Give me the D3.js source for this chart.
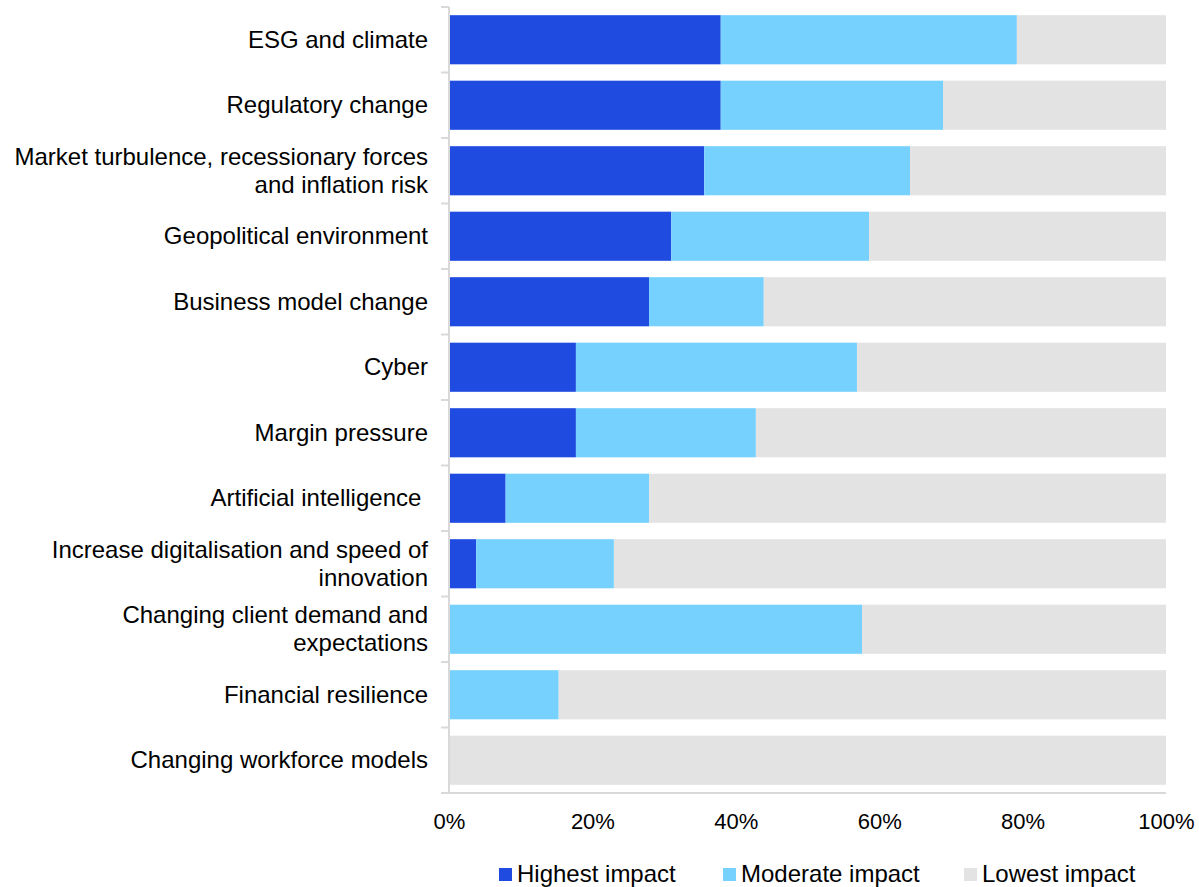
<!DOCTYPE html>
<html>
<head>
<meta charset="utf-8">
<script src="https://cdn.jsdelivr.net/npm/d3@7"></script>
<style>
  html, body { margin: 0; padding: 0; background: #fff; }
  svg { display: block; font-family: "Liberation Sans", Arial, sans-serif; }
</style>
</head>
<body>
<svg id="chart"></svg>
<script>
'use strict';

// --- data (percent of respondents) ---
var categories = [
    'ESG and climate',
    'Regulatory change',
    'Market turbulence, recessionary forces\nand inflation risk',
    'Geopolitical environment',
    'Business model change',
    'Cyber',
    'Margin pressure',
    'Artificial intelligence ',
    'Increase digitalisation and speed of\ninnovation',
    'Changing client demand and\nexpectations',
    'Financial resilience',
    'Changing workforce models'
];
var highestImpact  = [37.9, 37.9, 35.6, 31.0, 27.9, 17.7, 17.7, 7.9, 3.8, 0, 0, 0];
var moderateImpact = [41.3, 31.0, 28.7, 27.6, 16.0, 39.2, 25.1, 20.0, 19.2, 57.6, 15.3, 0];
var lowestImpact   = [20.8, 31.1, 35.7, 41.4, 56.1, 43.1, 57.2, 72.1, 77.0, 42.4, 84.7, 100];
var seriesNames = ['Highest impact', 'Moderate impact', 'Lowest impact'];
var tickValues = [0, 20, 40, 60, 80, 100];

var config = {
    width: 1199,
    height: 887,
    left: 449,
    right: 1166,
    top: 7,
    bottom: 793,
    colors: ['#1f4be0', '#76d1fe', '#e3e3e3'],
    axisColor: '#d9d9d9',
    labelSize: 24,
    tickSize: 22,
    legendSize: 24
};

var svg = d3.select('#chart')
    .attr('width', config.width)
    .attr('height', config.height);

var rows = categories.map(function(c, i) {
    return { cat: c, h: highestImpact[i], m: moderateImpact[i], l: lowestImpact[i] };
});

var x = d3.scaleLinear().domain([0, 100]).range([config.left, config.right]);
var y = d3.scaleBand()
    .domain(categories)
    .range([config.top, config.bottom])
    .paddingInner(0.25)
    .paddingOuter(0.125);

var stack = d3.stack().keys(['h', 'm', 'l']);
var layers = stack(rows);

svg.append('g')
    .selectAll('g')
    .data(layers)
    .enter()
    .append('g')
    .attr('fill', function(d, i) { return config.colors[i]; })
    .selectAll('rect')
    .data(function(d) { return d; })
    .enter()
    .append('rect')
    .attr('x', function(d) { return x(d[0]); })
    .attr('width', function(d) { return Math.max(0, x(d[1]) - x(d[0])); })
    .attr('y', function(d) { return y(d.data.cat); })
    .attr('height', y.bandwidth());

// left axis: line + ticks on category boundaries
var boundaries = d3.range(categories.length + 1).map(function(i) {
    return config.top + i * y.step();
});
var axisG = svg.append('g')
    .attr('stroke', config.axisColor)
    .attr('stroke-width', 2);
axisG.append('line')
    .attr('x1', config.left).attr('x2', config.left)
    .attr('y1', config.top).attr('y2', config.bottom);
axisG.selectAll('line.tick')
    .data(boundaries)
    .enter()
    .append('line')
    .attr('class', 'tick')
    .attr('x1', config.left - 8).attr('x2', config.left)
    .attr('y1', function(d) { return d; })
    .attr('y2', function(d) { return d; });
// bottom axis line
axisG.append('line')
    .attr('x1', config.left).attr('x2', config.right)
    .attr('y1', config.bottom).attr('y2', config.bottom);

// category labels
var labels = svg.append('g')
    .attr('font-size', config.labelSize)
    .attr('fill', '#000')
    .attr('text-anchor', 'end');
labels.selectAll('text')
    .data(categories)
    .enter()
    .append('text')
    .attr('x', config.left - 21)
    .attr('y', function(d) { return y(d) + y.bandwidth() / 2; })
    .style('white-space', 'pre')
    .each(function(d) {
        var lines = d.split('\n');
        var t = d3.select(this);
        var lineH = 28;
        var y0 = -(lines.length - 1) * lineH / 2;
        lines.forEach(function(line, k) {
            t.append('tspan')
                .attr('x', config.left - 21)
                .attr('dy', k === 0 ? (y0 + 8) : lineH)
                .text(line);
        });
    });

// x tick labels
var xAxis = d3.axisBottom(x)
    .tickValues(tickValues)
    .tickSize(0)
    .tickPadding(0)
    .tickFormat(function(d) { return d + '%'; });
var xg = svg.append('g')
    .attr('transform', 'translate(0,' + 813 + ')')
    .call(xAxis);
xg.select('.domain').remove();
xg.selectAll('text')
    .attr('font-family', '"Liberation Sans", Arial, sans-serif')
    .attr('font-size', config.tickSize)
    .attr('fill', '#000')
    .attr('dy', '0.71em');

// legend
var legendX = [499, 723, 964];
var legend = svg.append('g');
var items = legend.selectAll('g')
    .data(seriesNames)
    .enter()
    .append('g')
    .attr('transform', function(d, i) { return 'translate(' + legendX[i] + ',868)'; });
items.append('rect')
    .attr('width', 13)
    .attr('height', 13)
    .attr('fill', function(d, i) { return config.colors[i]; });
items.append('text')
    .attr('x', 18)
    .attr('y', 14)
    .attr('font-size', config.legendSize)
    .attr('fill', '#000')
    .text(function(d) { return d; });
</script>
</body>
</html>
